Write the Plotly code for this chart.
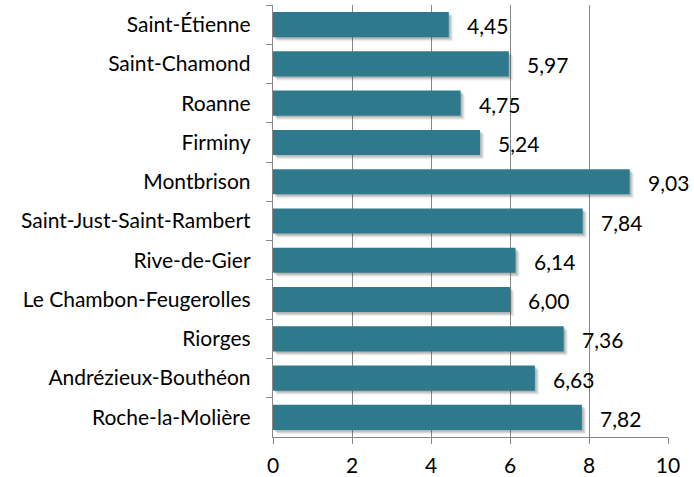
import plotly.graph_objects as go

communes = [
    "Saint-Étienne", "Saint-Chamond", "Roanne", "Firminy", "Montbrison",
    "Saint-Just-Saint-Rambert", "Rive-de-Gier", "Le Chambon-Feugerolles",
    "Riorges", "Andrézieux-Bouthéon", "Roche-la-Molière",
]
valeurs = [4.45, 5.97, 4.75, 5.24, 9.03, 7.84, 6.14, 6.00, 7.36, 6.63, 7.82]
x_ticks = [0, 2, 4, 6, 8, 10]

BAR_COLOR = "#2E7A8C"
FONT = "Lato"
FSIZE = 21
BAR_W = 0.64

fig = go.Figure()

# soft drop shadow: a few translucent gray layers shifted right/down
for k, op in [(0.10, 0.10), (0.07, 0.14), (0.04, 0.18)]:
    fig.add_trace(go.Bar(
        y=communes, x=valeurs, base=k, orientation="h",
        width=BAR_W, offset=-BAR_W / 2 + k,
        marker=dict(color=f"rgba(60,60,60,{op})", line=dict(width=0)),
        hoverinfo="skip", showlegend=False,
    ))

fig.add_trace(go.Bar(
    y=communes, x=valeurs, orientation="h",
    width=BAR_W, offset=-BAR_W / 2,
    marker=dict(color=BAR_COLOR, line=dict(width=0)),
    showlegend=False,
))

for c, v in zip(communes, valeurs):
    fig.add_annotation(
        x=v, y=c, text=f"{v:.2f}".replace(".", ","),
        xanchor="left", yanchor="middle", xshift=16, yshift=-1,
        showarrow=False, font=dict(family=FONT, size=FSIZE, color="#000000"),
    )

fig.update_layout(
    width=694, height=477,
    margin=dict(l=273, r=26, t=5, b=40),
    paper_bgcolor="white", plot_bgcolor="white",
    barmode="overlay",
    font=dict(family=FONT, size=FSIZE, color="#000000"),
)
fig.update_xaxes(
    range=[0, 10], tickvals=x_ticks, ticktext=[str(t) for t in x_ticks],
    showgrid=True, gridcolor="#888888", gridwidth=1.4,
    showline=True, linecolor="#888888", linewidth=1.4,
    ticks="outside", ticklen=6, tickcolor="#888888", tickwidth=1.4,
    zeroline=False, fixedrange=True, ticklabelstandoff=4, automargin=False,
)
fig.update_yaxes(
    autorange="reversed", type="category",
    showline=True, linecolor="#888888", linewidth=1.4,
    ticks="outside", ticklen=6, tickcolor="#888888", tickwidth=1.4,
    tickson="boundaries", showgrid=False, ticklabelstandoff=17, automargin=False,
)

fig.write_html("out.html")
